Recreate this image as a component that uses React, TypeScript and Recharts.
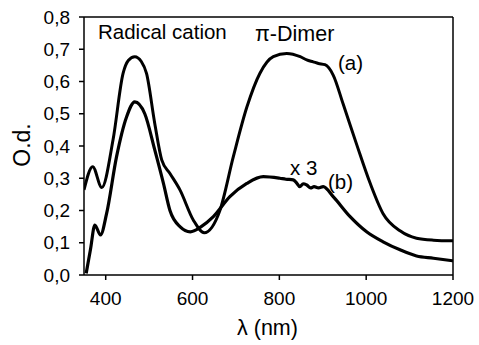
import { Line, LineChart, ReferenceLine, XAxis, YAxis } from "recharts";

// curve (a): radical cation + pi-dimer
const aNm = [350, 370, 391, 417, 440, 452, 467, 482, 494, 513, 529, 548, 571, 602, 627, 663, 694, 725, 755, 786, 817, 848, 863, 878, 890, 905, 924, 947, 978, 1009, 1039, 1078, 1116, 1155, 1200];
const aOd = [0.264, 0.336, 0.271, 0.42, 0.625, 0.665, 0.677, 0.662, 0.625, 0.47, 0.357, 0.315, 0.264, 0.17, 0.131, 0.2, 0.367, 0.52, 0.625, 0.677, 0.687, 0.677, 0.667, 0.661, 0.656, 0.652, 0.62, 0.53, 0.405, 0.285, 0.19, 0.137, 0.114, 0.108, 0.106];

// curve (b): x 3
const bNm = [355, 365, 375, 388, 402, 425, 448, 467, 490, 513, 533, 548, 571, 595, 620, 648, 686, 725, 763, 801, 815, 832, 840, 847, 855, 863, 872, 880, 890, 901, 924, 963, 1001, 1039, 1078, 1116, 1155, 1200];
const bOd = [0.005, 0.08, 0.155, 0.124, 0.19, 0.367, 0.49, 0.537, 0.5, 0.388, 0.284, 0.2, 0.15, 0.134, 0.15, 0.181, 0.243, 0.284, 0.305, 0.3, 0.297, 0.295, 0.285, 0.274, 0.283, 0.279, 0.27, 0.274, 0.27, 0.274, 0.243, 0.181, 0.134, 0.103, 0.078, 0.059, 0.052, 0.044];

const xTicks = [400, 600, 800, 1000, 1200];
const yTicks = [0, 0.1, 0.2, 0.3, 0.4, 0.5, 0.6, 0.7, 0.8];

const aData = aNm.map((nm, i) => ({ nm, od: aOd[i] }));
const bData = bNm.map((nm, i) => ({ nm, od: bOd[i] }));

const FONT = "'Liberation Sans', Arial, sans-serif";

function Note({ text, left, top, size = 20.5, rotate = false }: { text: string; left: number; top: number; size?: number; rotate?: boolean }) {
  return (
    <div
      style={{
        position: "absolute",
        left,
        top,
        fontSize: size,
        lineHeight: 1,
        whiteSpace: "nowrap",
        transform: rotate ? "translate(-50%, -50%) rotate(-90deg)" : undefined,
      }}
    >
      {text}
    </div>
  );
}

export default function App() {
  const tick = { fill: "#000", fontSize: 19, fontFamily: FONT };
  return (
    <div style={{ position: "absolute", left: 0, top: 0, width: 479, height: 345, background: "#fff", fontFamily: FONT, color: "#000" }}>
      <LineChart width={479} height={345} margin={{ top: 17, right: 26, left: 24, bottom: 30 }}>
        <XAxis
          type="number"
          dataKey="nm"
          domain={[350, 1200]}
          ticks={xTicks}
          allowDataOverflow
          height={40}
          tick={tick}
          tickSize={5}
          tickMargin={12}
          stroke="#000"
          strokeWidth={1.5}
        />
        <YAxis
          type="number"
          dataKey="od"
          domain={[0, 0.8]}
          ticks={yTicks}
          width={60}
          tick={tick}
          tickSize={5}
          tickMargin={9}
          tickFormatter={(v: number) => v.toFixed(1).replace(".", ",")}
          stroke="#000"
          strokeWidth={1.5}
        />
        <ReferenceLine y={0.8} stroke="#000" strokeWidth={1.5} />
        <ReferenceLine x={1200} stroke="#000" strokeWidth={1.5} />
        <Line data={aData} dataKey="od" type="monotone" stroke="#000" strokeWidth={3} dot={false} isAnimationActive={false} />
        <Line data={bData} dataKey="od" type="monotone" stroke="#000" strokeWidth={3.2} dot={false} isAnimationActive={false} />
      </LineChart>
      <Note text="Radical cation" left={98} top={22} />
      <Note text="π-Dimer" left={255} top={24} size={21.5} />
      <Note text="(a)" left={338} top={53} />
      <Note text="x 3" left={290} top={158} />
      <Note text="(b)" left={328} top={172} />
      <Note text="λ (nm)" left={237} top={318} size={21.5} />
      <Note text="O.d." left={22} top={145} size={23} rotate />
    </div>
  );
}
